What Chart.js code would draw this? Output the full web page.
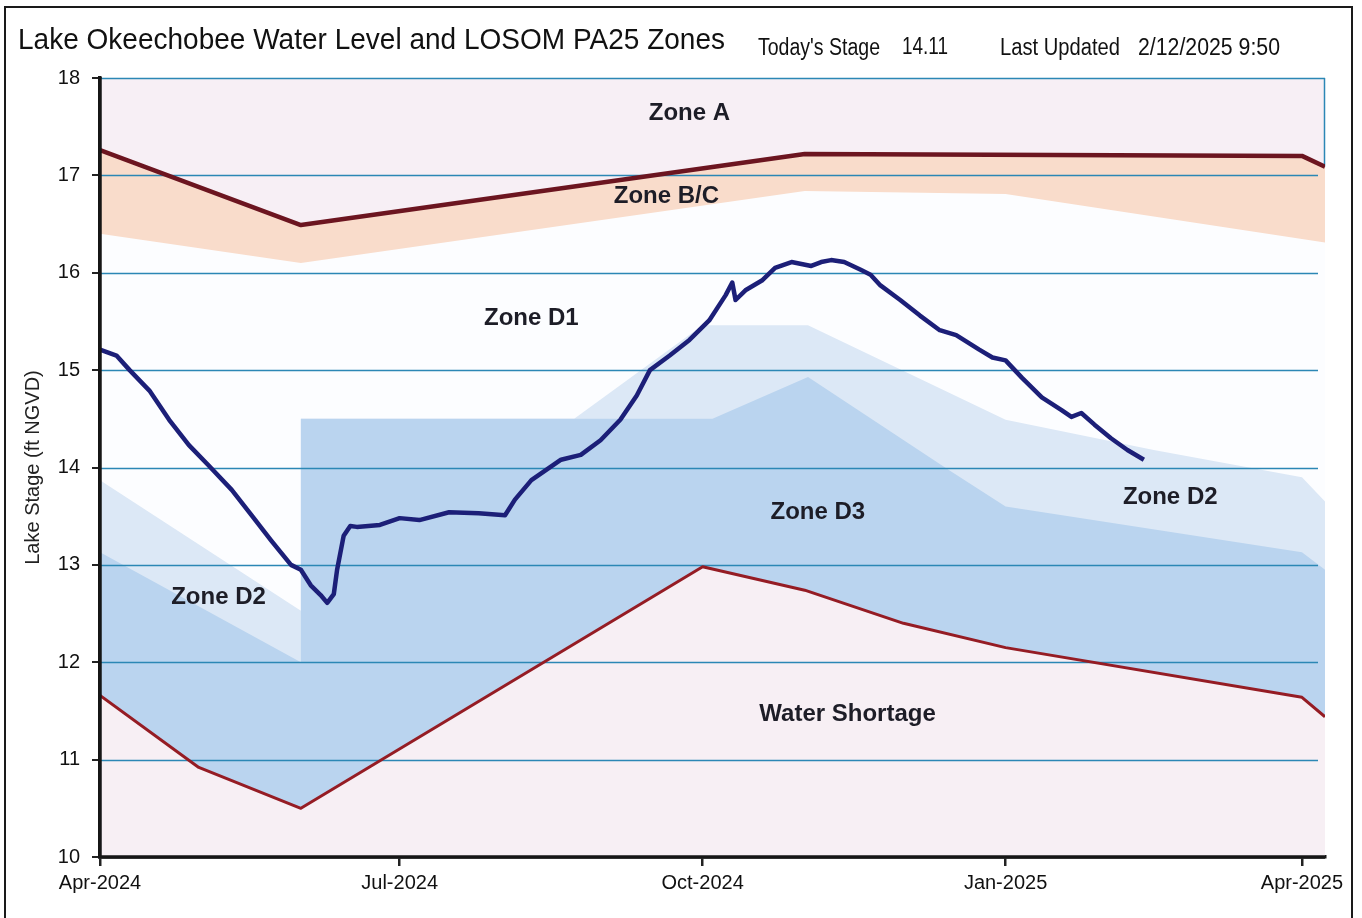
<!DOCTYPE html>
<html>
<head>
<meta charset="utf-8">
<title>Lake Okeechobee Water Level and LOSOM PA25 Zones</title>
<script src="https://cdn.jsdelivr.net/npm/chart.js@4.4.1/dist/chart.umd.min.js"></script>
<style>
  html, body { margin: 0; padding: 0; background: #fff; }
  #wrap { position: relative; width: 1362px; height: 918px; }
</style>
</head>
<body>
<div id="wrap"><canvas id="chart" width="1362" height="918"></canvas></div>
<script>
// x values are days counted from 1 Apr 2024
const tickDays = [0, 91, 183, 275, 365];
const tickLabels = ['Apr-2024', 'Jul-2024', 'Oct-2024', 'Jan-2025', 'Apr-2025'];

// zone boundaries (ft NGVD)
const zoneATopDays = [0, 372];
const zoneATopLevels = [18, 18];

const zoneBCTopDays = [0, 61, 214, 365, 372];
const zoneBCTopLevels = [17.26, 16.49, 17.22, 17.20, 17.09];

const zoneD1TopDays = [0, 61, 214, 275, 372];
const zoneD1TopLevels = [16.40, 16.10, 16.84, 16.81, 16.31];

const zoneD2TopDays = [0, 61, 61, 144, 183, 215, 275, 320, 365, 372];
const zoneD2TopLevels = [13.87, 12.53, 14.50, 14.50, 15.46, 15.46, 14.49, 14.18, 13.90, 13.65];

const zoneD3TopDays = [0, 61, 61, 186, 215, 258, 275, 365, 372];
const zoneD3TopLevels = [13.13, 12.00, 14.50, 14.50, 14.93, 13.97, 13.60, 13.13, 12.95];

const shortageTopDays = [0, 30, 61, 183, 214, 244, 275, 365, 372];
const shortageTopLevels = [11.66, 10.92, 10.50, 12.98, 12.74, 12.40, 12.15, 11.64, 11.44];

// lake stage
const stageDays = [0, 5, 9, 15, 21, 27, 33, 40, 46, 52, 58, 61, 64, 67, 69, 71, 72, 74, 76, 78,
  85, 91, 97, 106, 115, 123, 126, 131, 140, 146, 152, 158, 163, 167, 173, 179, 185, 190, 192, 193,
  196, 201, 205, 210, 216, 219, 222, 226, 231, 234, 237, 243, 249, 255, 260, 267, 271, 275, 280, 286,
  292, 295, 298, 302, 307, 312, 317];
const stageLevels = [15.21, 15.15, 15.00, 14.79, 14.49, 14.23, 14.02, 13.77, 13.51, 13.25, 13.00, 12.95, 12.79, 12.69, 12.61, 12.70, 12.95, 13.30, 13.40, 13.39,
  13.41, 13.48, 13.46, 13.54, 13.53, 13.51, 13.67, 13.87, 14.08, 14.13, 14.28, 14.49, 14.74, 15.00, 15.15, 15.31, 15.51, 15.77, 15.90, 15.72,
  15.82, 15.92, 16.05, 16.11, 16.07, 16.11, 16.13, 16.11, 16.03, 15.98, 15.87, 15.72, 15.56, 15.41, 15.36, 15.21, 15.13, 15.10, 14.92, 14.72,
  14.59, 14.52, 14.56, 14.44, 14.30, 14.18, 14.08];

const zoneLabels = [
  { text: 'Zone A', day: 179, level: 17.64 },
  { text: 'Zone B/C', day: 172, level: 16.78 },
  { text: 'Zone D1', day: 131, level: 15.53 },
  { text: 'Zone D2', day: 36, level: 12.67 },
  { text: 'Zone D3', day: 218, level: 13.54 },
  { text: 'Zone D2', day: 325, level: 13.69 },
  { text: 'Water Shortage', day: 227, level: 11.46 }
];

const FONT = "'Liberation Sans', Arial, Helvetica, sans-serif";
const gridColor = '#2b87b5';

const pts = (days, vals) => days.map((d, i) => ({ x: d, y: vals[i] }));

function zoneFill(label, days, vals, color, order) {
  return {
    label: label,
    data: pts(days, vals),
    borderWidth: 0,
    borderColor: 'rgba(0,0,0,0)',
    backgroundColor: color,
    pointRadius: 0,
    fill: 'start',
    tension: 0,
    order: order
  };
}

function line(label, days, vals, color, width, order) {
  return {
    label: label,
    data: pts(days, vals),
    borderColor: color,
    borderWidth: width,
    pointRadius: 0,
    fill: false,
    tension: 0,
    borderJoinStyle: 'round',
    order: order
  };
}

const datasets = [
  zoneFill('Zone A', zoneATopDays, zoneATopLevels, '#f7eff5', 10),
  zoneFill('Zone B/C', zoneBCTopDays, zoneBCTopLevels, '#f9dccb', 9),
  zoneFill('Zone D1', zoneD1TopDays, zoneD1TopLevels, '#fcfdff', 8),
  zoneFill('Zone D2', zoneD2TopDays, zoneD2TopLevels, '#dce8f6', 7),
  zoneFill('Zone D3', zoneD3TopDays, zoneD3TopLevels, '#bad4ef', 6),
  zoneFill('Water Shortage', shortageTopDays, shortageTopLevels, '#f7eff4', 5),
  line('Zone A line', zoneBCTopDays, zoneBCTopLevels, '#6c1520', 4.5, 3),
  line('Shortage line', shortageTopDays, shortageTopLevels, '#951c24', 3, 2),
  line('Lake Stage', stageDays, stageLevels, '#1c1f78', 4.5, 1)
];
const SHORTAGE_INDEX = 5;

const overlay = {
  id: 'overlay',
  afterDatasetDraw(chart, args) {
    if (args.index !== SHORTAGE_INDEX) return;
    const { ctx, chartArea } = chart;
    const y = chart.scales.y;
    ctx.save();
    ctx.strokeStyle = gridColor;
    ctx.lineWidth = 1.5;
    y.ticks.forEach(t => {
      if (t.value <= y.min) return;
      const py = Math.round(y.getPixelForValue(t.value)) + 0.5;
      ctx.beginPath();
      ctx.moveTo(chartArea.left, py);
      ctx.lineTo(t.value >= y.max ? chartArea.right : chartArea.right - 7, py);
      ctx.stroke();
    });
    // right edge of the zone A box
    ctx.beginPath();
    ctx.moveTo(chartArea.right - 0.5, y.getPixelForValue(y.max));
    ctx.lineTo(chartArea.right - 0.5, y.getPixelForValue(zoneBCTopLevels[zoneBCTopLevels.length - 1]));
    ctx.stroke();
    ctx.restore();
  },
  afterDatasetsDraw(chart) {
    const { ctx } = chart;
    const x = chart.scales.x, y = chart.scales.y;
    ctx.save();
    ctx.font = 'bold 24px ' + FONT;
    ctx.fillStyle = '#1d1d27';
    ctx.textAlign = 'center';
    ctx.textBaseline = 'middle';
    zoneLabels.forEach(l => {
      ctx.fillText(l.text, x.getPixelForValue(l.day), y.getPixelForValue(l.level));
    });
    ctx.restore();
  },
  afterDraw(chart) {
    const { ctx, chartArea } = chart;
    ctx.save();
    // axis lines on top of the zone fills
    ctx.strokeStyle = '#161616';
    ctx.lineWidth = 3.5;
    ctx.beginPath();
    ctx.moveTo(chartArea.left, chartArea.top - 1);
    ctx.lineTo(chartArea.left, chartArea.bottom);
    ctx.lineTo(chartArea.right, chartArea.bottom);
    ctx.stroke();

    ctx.fillStyle = '#111';
    ctx.textBaseline = 'alphabetic';
    ctx.textAlign = 'left';
    ctx.font = '29px ' + FONT;
    ctx.fillText('Lake Okeechobee Water Level and LOSOM PA25 Zones', 18, 49, 707);
    ctx.font = '23px ' + FONT;
    ctx.fillText("Today's Stage", 758, 55, 122);
    ctx.fillText('14.11', 902, 54, 46);
    ctx.fillText('Last Updated', 1000, 55, 120);
    ctx.fillText('2/12/2025 9:50', 1138, 55, 142);
    ctx.strokeStyle = '#1a1a1a';
    ctx.lineWidth = 2;
    ctx.strokeRect(5, 7, 1347, 950);
    ctx.restore();
  }
};

new Chart(document.getElementById('chart'), {
  type: 'line',
  data: { datasets: datasets },
  options: {
    responsive: false,
    animation: false,
    devicePixelRatio: 1,
    layout: { padding: { top: 78, right: 37, left: 0, bottom: 0 } },
    plugins: {
      legend: { display: false },
      tooltip: { enabled: false },
      title: { display: false }
    },
    scales: {
      x: {
        type: 'linear',
        min: 0,
        max: 372,
        z: 1,
        afterFit: (scale) => { scale.height = 61; },
        afterBuildTicks: (scale) => { scale.ticks = tickDays.map(v => ({ value: v })); },
        grid: { drawOnChartArea: false, drawTicks: true, tickLength: 9, tickColor: '#222', lineWidth: 2.5 },
        border: { display: true, color: '#161616', width: 3.5 },
        ticks: {
          autoSkip: false,
          maxRotation: 0,
          padding: 5,
          color: '#111',
          font: { family: FONT, size: 20 },
          callback: (v) => tickLabels[tickDays.indexOf(v)]
        }
      },
      y: {
        type: 'linear',
        min: 10,
        max: 18,
        z: 1,
        afterFit: (scale) => { scale.width = 100; },
        grid: { drawOnChartArea: false, drawTicks: true, tickLength: 8, tickColor: '#222', lineWidth: 2 },
        border: { display: true, color: '#161616', width: 3.5 },
        ticks: {
          stepSize: 1,
          padding: 12,
          color: '#111',
          font: { family: FONT, size: 20 }
        },
        title: {
          display: true,
          text: 'Lake Stage (ft NGVD)',
          color: '#222',
          font: { family: FONT, size: 20 },
          padding: { top: 21, bottom: 0 }
        }
      }
    }
  },
  plugins: [overlay]
});
</script>
</body>
</html>
